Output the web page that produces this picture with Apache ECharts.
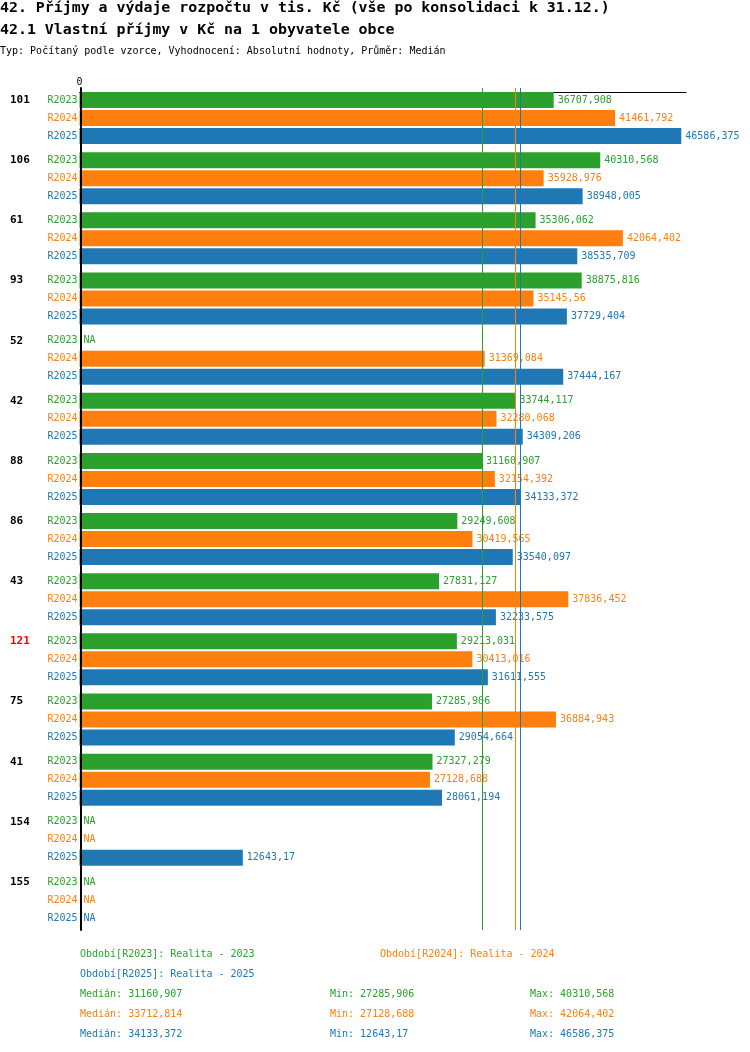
<!DOCTYPE html>
<html>
<head>
<meta charset="utf-8">
<script src="https://cdn.jsdelivr.net/npm/echarts@6/dist/echarts.min.js"></script>
<style>
  html, body { margin: 0; padding: 0; background: #fff; }
  #chart { width: 750px; height: 1052px; }
</style>
</head>
<body>
<div id="chart"></div>
<script>
const groups = ['101', '106', '61', '93', '52', '42', '88', '86', '43', '121', '75', '41', '154', '155'];
const periods = ['R2023', 'R2024', 'R2025'];
const periodNames = ['Realita - 2023', 'Realita - 2024', 'Realita - 2025'];
// null = NA
const r2023 = [36707.908, 40310.568, 35306.062, 38875.816, null, 33744.117, 31160.907, 29249.608, 27831.127, 29213.031, 27285.906, 27327.279, null, null];
const r2024 = [41461.792, 35928.976, 42064.402, 35145.56, 31369.084, 32280.068, 32154.392, 30419.565, 37836.452, 30413.016, 36884.943, 27128.688, null, null];
const r2025 = [46586.375, 38948.005, 38535.709, 37729.404, 37444.167, 34309.206, 34133.372, 33540.097, 32233.575, 31611.555, 29054.664, 28061.194, 12643.17, null];
const medians = [31160.907, 33712.814, 34133.372];
const mins = [27285.906, 27128.688, 12643.17];
const maxs = [40310.568, 42064.402, 46586.375];

const colors = ['#2ca02c', '#ff7f0e', '#1f77b4'];
const highlightGroup = '121';
const font = "'DejaVu Sans Mono', 'Liberation Mono', monospace";

const fmt = v => String(v).replace('.', ',');

const chart = echarts.init(document.getElementById('chart'));

const values = [r2023, r2024, r2025];

const barSeries = values.map((vals, i) => ({
    name: periods[i],
    type: 'bar',
    yAxisIndex: 0,
    barWidth: 16,
    barGap: '12.5%',
    data: vals.map(v => (v == null ? 0 : v)),
    itemStyle: { color: colors[i] },
    label: {
        show: true,
        position: 'right',
        distance: 4,
        color: colors[i],
        fontFamily: font,
        fontSize: 10,
        formatter: p => (vals[p.dataIndex] == null ? 'NA' : fmt(vals[p.dataIndex]))
    },
    markLine: {
        silent: true,
        symbol: 'none',
        label: { show: false },
        lineStyle: { color: colors[i], type: 'solid', width: 1 },
        data: [{ xAxis: medians[i] }]
    },
    animation: false
}));

// zero-width bars carrying the period names (and group names on the first row) left of the axis
const nameSeries = values.map((vals, i) => ({
    name: periods[i] + '-name',
    type: 'bar',
    yAxisIndex: 1,
    barWidth: 16,
    barGap: '12.5%',
    silent: true,
    data: vals.map(() => 0),
    itemStyle: { color: 'transparent' },
    label: {
        show: true,
        position: 'left',
        distance: 2,
        fontFamily: font,
        fontSize: 10,
        formatter: p => {
            const g = i === 0 ? groups[p.dataIndex] : '';
            const gStyle = g === highlightGroup ? 'h' : 'g';
            return '{' + gStyle + '|' + g + '}{p|' + periods[i] + '}';
        },
        rich: {
            g: { width: 37.5, align: 'left', fontFamily: font, fontSize: 11, fontWeight: 'bold', color: '#000' },
            h: { width: 37.5, align: 'left', fontFamily: font, fontSize: 11, fontWeight: 'bold', color: '#ff0000' },
            p: { fontFamily: font, fontSize: 10, color: colors[i] }
        }
    },
    animation: false
}));

const texts = [
    { x: 0, y: 8, text: '42. Příjmy a výdaje rozpočtu v tis. Kč (vše po konsolidaci k 31.12.)', size: 14.9, bold: true, color: '#000' },
    { x: 0, y: 30, text: '42.1 Vlastní příjmy v Kč na 1 obyvatele obce', size: 14.9, bold: true, color: '#000' },
    { x: 0, y: 51, text: 'Typ: Počítaný podle vzorce, Vyhodnocení: Absolutní hodnoty, Průměr: Medián', size: 10, color: '#000' },
    { x: 80, y: 954, text: 'Období[' + periods[0] + ']: ' + periodNames[0], size: 10, color: colors[0] },
    { x: 380, y: 954, text: 'Období[' + periods[1] + ']: ' + periodNames[1], size: 10, color: colors[1] },
    { x: 80, y: 974, text: 'Období[' + periods[2] + ']: ' + periodNames[2], size: 10, color: colors[2] }
];
periods.forEach((p, i) => {
    const y = 994 + i * 20;
    texts.push({ x: 80, y: y, text: 'Medián: ' + fmt(medians[i]), size: 10, color: colors[i] });
    texts.push({ x: 330, y: y, text: 'Min: ' + fmt(mins[i]), size: 10, color: colors[i] });
    texts.push({ x: 530, y: y, text: 'Max: ' + fmt(maxs[i]), size: 10, color: colors[i] });
});

const option = {
    animation: false,
    grid: { left: 79.5, top: 88, width: 606.5, height: 842 },
    xAxis: {
        type: 'value',
        position: 'top',
        offset: -4,
        min: 0,
        max: 46950,
        interval: 46950,
        axisLine: { show: true, lineStyle: { color: '#000', width: 1 } },
        axisTick: { show: false },
        splitLine: { show: false },
        axisLabel: {
            margin: 5,
            fontFamily: font,
            fontSize: 10,
            color: '#000',
            formatter: v => (v === 0 ? '0' : '')
        }
    },
    yAxis: [
        {
            type: 'category',
            inverse: true,
            data: groups,
            offset: -1.5,
            z: 10,
            axisLine: { show: true, lineStyle: { color: '#000', width: 2 } },
            axisTick: { show: false },
            axisLabel: { show: false }
        },
        {
            type: 'category',
            inverse: true,
            data: groups,
            show: false
        }
    ],
    graphic: texts.map(t => ({
        type: 'text',
        x: t.x,
        y: t.y,
        style: {
            text: t.text,
            fill: t.color,
            font: (t.bold ? 'bold ' : '') + t.size + 'px ' + font,
            textVerticalAlign: 'middle'
        }
    })),
    series: barSeries.concat(nameSeries)
};

chart.setOption(option);
</script>
</body>
</html>
